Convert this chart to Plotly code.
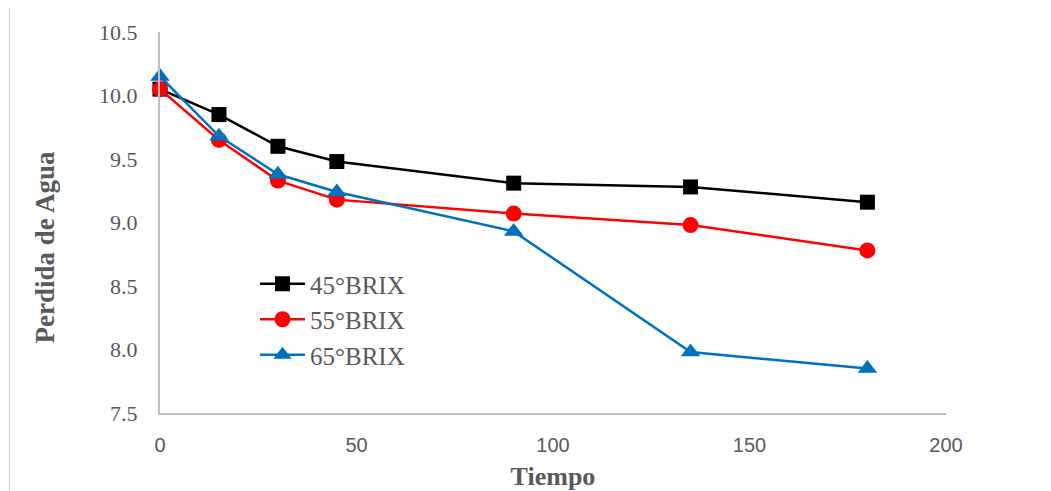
import plotly.graph_objects as go

tiempo = [0, 15, 30, 45, 90, 135, 180]
brix45 = [10.05, 9.85, 9.60, 9.48, 9.31, 9.28, 9.16]
brix55 = [10.05, 9.65, 9.33, 9.18, 9.07, 8.98, 8.78]
brix65 = [10.15, 9.68, 9.38, 9.24, 8.93, 7.98, 7.85]
names = ["45°BRIX", "55°BRIX", "65°BRIX"]
y_ticks = [7.5, 8.0, 8.5, 9.0, 9.5, 10.0, 10.5]
x_ticks = [0, 50, 100, 150, 200]

fig = go.Figure()
styles = [("#000000", "square", 15), ("#ff0000", "circle", 16), ("#0070c0", "triangle-up", 17)]
for name, vals, (col, sym, sz) in zip(names, [brix45, brix55, brix65], styles):
    fig.add_trace(go.Scatter(
        x=tiempo, y=vals, name=name, mode="lines+markers",
        line=dict(color=col, width=2.5),
        marker=dict(color=col, symbol=sym, size=sz),
        cliponaxis=False,
    ))

# page body has 8px margin; figure coords = screen - 8
L, R, T, B = 152, 938, 24, 405
W, H = 1043, 483
pw, ph = R - L, B - T

fig.update_layout(
    width=W, height=H,
    margin=dict(l=L, r=W - R, t=T, b=H - B, autoexpand=False),
    paper_bgcolor="white", plot_bgcolor="white",
    showlegend=True,
    legend=dict(x=(255 - 160) / 786, y=(413 - 261) / 381, xanchor="left", yanchor="top",
                font=dict(family="Liberation Serif", size=25, color="#595959"),
                bgcolor="rgba(0,0,0,0)", itemwidth=45, tracegroupgap=0),
    xaxis=dict(range=[0, 200], tickvals=x_ticks, showgrid=False, zeroline=False,
               automargin=False,
               showline=True, linecolor="#bfbfbf", linewidth=2, ticks="outside",
               ticklen=13, tickcolor="rgba(0,0,0,0)",
               tickfont=dict(family="Liberation Sans", size=20, color="#595959"),
               title=dict(text="<b>Tiempo</b>", standoff=12,
                          font=dict(family="Liberation Serif", size=26, color="#595959"))),
    yaxis=dict(range=[7.5, 10.5], tickvals=y_ticks, tickformat=".1f",
               showgrid=False, zeroline=False, automargin=False,
               showline=True, linecolor="#bfbfbf", linewidth=2, ticks="outside",
               ticklen=16, tickcolor="rgba(0,0,0,0)",
               tickfont=dict(family="Liberation Serif", size=22, color="#595959")),
    annotations=[dict(text="<b>Perdida de Agua</b>", xref="paper", yref="paper",
                      x=(37 - L) / pw, y=(B - 239.5) / ph, textangle=-90,
                      showarrow=False, xanchor="center", yanchor="middle",
                      font=dict(family="Liberation Serif", size=27, color="#595959"))],
    shapes=[dict(type="rect", xref="paper", yref="paper",
                 x0=(1.5 - L) / pw, x1=(1060 - L) / pw,
                 y0=(B - 500) / ph, y1=(B + 1.5) / ph,
                 line=dict(color="#d9d9d9", width=1.5), layer="below")],
)

fig.write_html("out.html")
